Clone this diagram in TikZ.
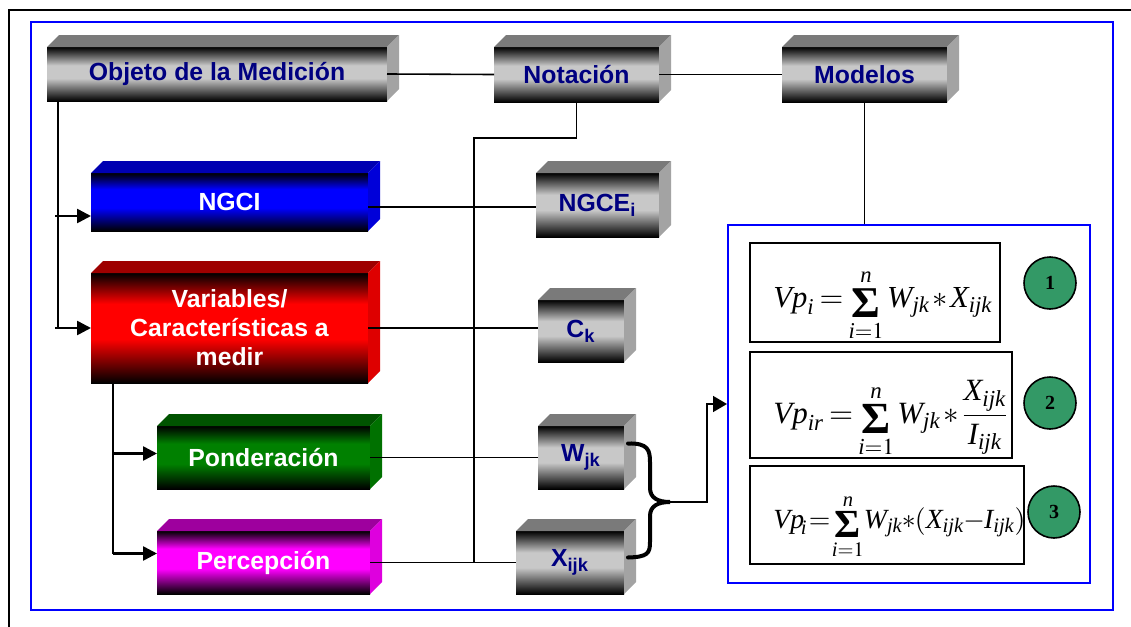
\documentclass[tikz,border=0pt]{standalone}
\usepackage{mathptmx}
\usepackage{amsmath}
\usepackage{graphicx}
\usepackage[no-math]{fontspec}
\setmainfont{Liberation Serif}
\setsansfont{Liberation Sans}
\usetikzlibrary{arrows.meta,calc}

% face colours
\definecolor{navytext}{RGB}{0,0,128}
\definecolor{silverface}{RGB}{200,200,200}
\definecolor{pureblue}{RGB}{0,0,255}
\definecolor{purered}{RGB}{255,0,0}
\definecolor{puregreen}{RGB}{0,128,0}
\definecolor{puremagenta}{RGB}{255,0,255}
\definecolor{circlegreen}{RGB}{51,153,102}

% front faces: dark at the edges, bright band a little above the middle
\pgfdeclareverticalshading{faceGray}{100bp}{color(0bp)=(black); color(25bp)=(black); color(46bp)=(silverface); color(58bp)=(silverface); color(75bp)=(black); color(100bp)=(black)}
\pgfdeclareverticalshading{faceBlue}{100bp}{color(0bp)=(black); color(25bp)=(black); color(45bp)=(pureblue); color(61bp)=(pureblue); color(75bp)=(black); color(100bp)=(black)}
\pgfdeclareverticalshading{faceRed}{100bp}{color(0bp)=(black); color(25bp)=(black); color(45bp)=(purered); color(61bp)=(purered); color(75bp)=(black); color(100bp)=(black)}
\pgfdeclareverticalshading{faceGreen}{100bp}{color(0bp)=(black); color(25bp)=(black); color(45bp)=(puregreen); color(61bp)=(puregreen); color(75bp)=(black); color(100bp)=(black)}
\pgfdeclareverticalshading{faceMagenta}{100bp}{color(0bp)=(black); color(25bp)=(black); color(45bp)=(puremagenta); color(61bp)=(puremagenta); color(75bp)=(black); color(100bp)=(black)}

% top and side faces of a block, drawn from the front-face node
\newcommand\blockfaces[3]{%
  \fill[#2] (#1.north west) -- ++(12,-12) -- ($(#1.north east)+(12,-12)$) -- (#1.north east) -- cycle;
  \fill[#3] (#1.north east) -- ++(12,-12) -- ($(#1.south east)+(12,-12)$) -- (#1.south east) -- cycle;
}

% formula pieces: text italic letters and a large summation sign with limits
\newcommand\tv[1]{\text{\itshape #1}}
\newcommand\bigsum{\mathop{\raisebox{-6pt}{\resizebox{!}{16pt}{\bfseries Σ}}}\limits_{\tv{i}=1}^{\tv{n}}}
% a formula set tight and brought to a given width
\newcommand\fitformula[2]{\resizebox{#1}{!}{\thickmuskip=3mu\medmuskip=1.5mu$#2$}}

\tikzset{
  wd/.style={minimum width=#1*0.5pt},
  ht/.style={minimum height=#1*0.5pt},
  block/.style={inner sep=0pt, outer sep=0pt, align=center,
    font=\sffamily\bfseries\fontsize{12.4}{14.5}\selectfont},
  grayblock/.style={block, shading=faceGray, text=navytext},
  blueblock/.style={block, shading=faceBlue, text=white},
  redblock/.style={block, shading=faceRed, text=white},
  greenblock/.style={block, shading=faceGreen, text=white},
  magentablock/.style={block, shading=faceMagenta, text=white},
  conn/.style={draw=black, line width=0.8pt},
  feed/.style={draw=black, line width=1.3pt, -{Triangle[length=7pt,width=7pt]}},
  toPanel/.style={draw=black, line width=0.8pt, -{Triangle[length=7pt,width=8pt]}},
  brace/.style={draw=black, line width=2pt, line cap=round},
  formulabox/.style={draw=black, line width=0.8pt, inner sep=0pt},
  formula/.style={inner sep=0pt, anchor=base west, font=\fontsize{17}{20}\selectfont},
  badge/.style={circle, draw=black, line width=0.8pt, fill=circlegreen,
    minimum size=26pt, inner sep=0pt, font=\rmfamily\bfseries\fontsize{10}{12}\selectfont},
}

\begin{document}
\begin{tikzpicture}[x=0.5pt,y=-0.5pt]
\useasboundingbox (0,0) rectangle (1131,627);

% page frame and outer blue frame
\draw[line width=1pt] (8,10) -- (1131,10);
\draw[line width=1pt] (9,10) -- (9,627);
\draw[pureblue, line width=1pt] (31,22) rectangle (1113,610);

% blocks (front faces)
\node[grayblock, wd=340, ht=54] (obj) at (217,74) {Objeto de la Medición};
\node[grayblock, wd=165, ht=55] (notac) at (576.5,74.5) {Notación};
\node[grayblock, wd=165, ht=55] (model) at (864.5,74.5) {Modelos};
\node[grayblock, wd=123, ht=64] (ngce) at (597.5,205) {NGCE\textsubscript{i}};
\node[grayblock, wd=86, ht=62] (ck) at (581,331) {C\textsubscript{k}};
\node[grayblock, wd=86, ht=63] (wjk) at (581,457.5) {W\textsubscript{jk}};
\node[grayblock, wd=108, ht=63] (xijk) at (570,562.5) {X\textsubscript{ijk}};
\node[blueblock, wd=277, ht=58] (ngci) at (229.5,202) {NGCI};
\node[redblock, wd=277, ht=110] (vars) at (229.5,328) {Variables/\\Características a\\medir};
\node[greenblock, wd=213, ht=63] (pond) at (263.5,457.5) {Ponderación};
\node[magentablock, wd=213, ht=63] (perc) at (263.5,562.5) {Percepción};

% top and side faces
\blockfaces{obj}{black!52}{black!36}
\blockfaces{notac}{black!52}{black!36}
\blockfaces{model}{black!52}{black!36}
\blockfaces{ngce}{black!52}{black!36}
\blockfaces{ck}{black!52}{black!36}
\blockfaces{wjk}{black!52}{black!36}
\blockfaces{xijk}{black!52}{black!36}
\blockfaces{ngci}{pureblue!70!black}{pureblue!85!black}
\blockfaces{vars}{purered!62!black}{purered!87!black}
\blockfaces{pond}{puregreen!65!black}{puregreen!88!black}
\blockfaces{perc}{puremagenta!62!black}{puremagenta!87!black}

% models panel with the three formulas
\node[draw=pureblue, line width=1pt, wd=362, ht=358, inner sep=0pt] (panel) at (909,404) {};
\node[formulabox, wd=250, ht=99] (f1) at (875,292.5) {};
\node[formulabox, wd=262, ht=106] (f2) at (881,405) {};
\node[formulabox, wd=274, ht=98] (f3) at (887,515) {};
\node[formula] (f1t) at (773,307)
  {\fitformula{109.5pt}{\tv{Vp}_{\tv{i}} = \bigsum \tv{W}_{\tv{jk}} * \tv{X}_{\tv{ijk}}}};
\node[formula] (f2t) at (773,423)
  {\fitformula{117.5pt}{\tv{Vp}_{\tv{ir}} = \bigsum \tv{W}_{\tv{jk}} * \dfrac{\tv{X}_{\tv{ijk}}}{\tv{I}_{\tv{ijk}}}}};
\node[formula] (f3t) at (773,528)
  {\fitformula{126pt}{\tv{Vp}_{\mkern-3mu\tv{i}}\mkern-2mu=\mkern-2mu\bigsum\mkern-2mu\tv{W}_{\tv{jk}}\mkern-2mu*\mkern-2mu(\tv{X}_{\tv{ijk}}\mkern-2mu-\mkern-2mu\tv{I}_{\tv{ijk}})}};
\node[badge] (b1) at (1050,283) {1};
\node[badge] (b2) at (1050,403) {2};
\node[badge] (b3) at (1054,512) {3};

% top row links
\draw[conn] (obj.east) -- (notac.west);
\draw[conn] (notac.east) -- (model.west);
\draw[conn] (model.south) -- (model.south |- panel.north);

% notation bus
\coordinate (busTop) at (474,138);
\coordinate (busEnd) at (474,562);
\draw[conn] (notac.south) |- (busTop) -- (busEnd);
\draw[conn] (ngci.east) ++(0,5) -- ($(ngce.west)+(0,2)$);
\draw[conn] (vars.east) -- (vars.east -| ck.west);
\draw[conn] (pond.east) -- (pond.east -| wjk.west);
\draw[conn] (perc.east) -- (perc.east -| xijk.west);

% feeds from the measured object
\coordinate (objDrop) at ($(obj.south west)+(11,0)$);
\coordinate (ngciIn) at ($(ngci.west)+(0,14)$);
\draw[conn, line width=1.1pt] (objDrop) -- (objDrop |- vars.west);
\draw[feed] ($(objDrop |- ngciIn)+(-3,0)$) -- (ngciIn);
\draw[feed] ($(objDrop |- vars.west)+(-3,0)$) -- (vars.west);

% feeds from the variables
\coordinate (varDrop) at ($(vars.south west)+(22,0)$);
\coordinate (pondIn) at ($(pond.west)+(0,-4)$);
\coordinate (percIn) at ($(perc.west)+(0,-9)$);
\draw[conn, line width=1.1pt] (varDrop) -- (varDrop |- percIn);
\draw[feed] (varDrop |- pondIn) -- (pondIn);
\draw[feed] (varDrop |- percIn) -- (percIn);

% brace joining weights and values
\coordinate (braceA) at ($(wjk.east)+(4,-14)$);
\coordinate (braceB) at ($(xijk.east)+(4,-5)$);
\coordinate (braceTip) at (670,502);
\draw[brace] (braceA) .. controls (648,443) and (650,450) .. (650,462) -- (650,488)
  .. controls (650,498) and (658,502) .. (braceTip)
  .. controls (658,502) and (650,506) .. (650,516) -- (650,542)
  .. controls (650,553) and (648,557) .. (braceB);
\draw[toPanel] (braceTip) -- ++(37,0) |- (panel.west);
\end{tikzpicture}
\end{document}
